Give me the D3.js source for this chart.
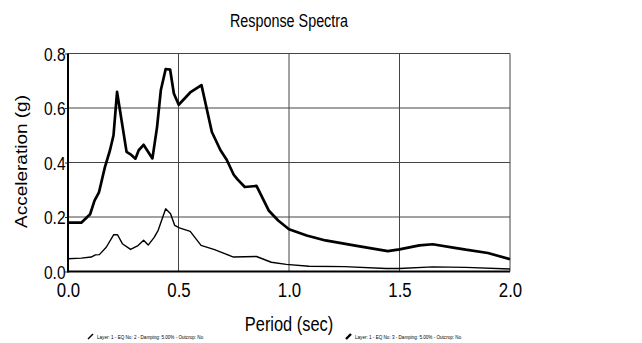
<!DOCTYPE html>
<html><head><meta charset="utf-8">
<script src="https://cdn.jsdelivr.net/npm/d3@7"></script>
<style>html,body{margin:0;padding:0;background:#fff;}svg{display:block;font-family:"Liberation Sans",Arial,sans-serif;}</style>
</head><body><svg id="c" width="642" height="343"></svg>
<script>
const title = "Response Spectra";
const xLabel = "Period (sec)";
const yLabel = "Acceleration (g)";
const xTicks = [0, 0.5, 1.0, 1.5, 2.0];
const yTicks = [0, 0.2, 0.4, 0.6, 0.8];
const legendLabels = ["Layer:  1 - EQ No:  2 - Damping: 5.00% - Outcrop: No", "Layer:  1 - EQ No:  3 - Damping: 5.00% - Outcrop: No"];
// EQ 3 (thick)
const eq3Period = [0,0.06,0.10,0.12,0.14,0.167,0.19,0.206,0.222,0.265,0.283,0.305,0.32,0.342,0.382,0.403,0.42,0.442,0.462,0.479,0.501,0.553,0.604,0.651,0.69,0.718,0.75,0.767,0.80,0.853,0.908,0.951,1.0,1.08,1.165,1.30,1.447,1.50,1.59,1.65,1.75,1.80,1.90,2.0];
const eq3Acc    = [0.179,0.179,0.21,0.26,0.29,0.383,0.445,0.50,0.659,0.439,0.43,0.414,0.445,0.465,0.415,0.53,0.665,0.743,0.741,0.653,0.612,0.657,0.684,0.512,0.445,0.41,0.355,0.338,0.31,0.314,0.224,0.187,0.155,0.132,0.114,0.095,0.075,0.081,0.096,0.10,0.087,0.08,0.068,0.045];
// EQ 2 (thin)
const eq2Period = [0,0.06,0.105,0.124,0.142,0.173,0.207,0.224,0.246,0.283,0.317,0.342,0.363,0.39,0.408,0.442,0.464,0.483,0.504,0.553,0.602,0.663,0.749,0.853,0.92,0.988,1.09,1.25,1.44,1.5,1.65,1.8,2.0];
const eq2Acc    = [0.047,0.049,0.053,0.061,0.062,0.089,0.135,0.135,0.102,0.081,0.095,0.115,0.097,0.125,0.151,0.23,0.212,0.169,0.16,0.147,0.096,0.08,0.053,0.055,0.034,0.026,0.0195,0.018,0.011,0.011,0.017,0.015,0.009];

const svg = d3.select("#c");
const L = 68, R = 510, T = 53.5, B = 271.5;
const SX = 0.82; // narrow lettering as in reference
const x = d3.scaleLinear().domain([0, 2]).range([L, R]);
const y = d3.scaleLinear().domain([0, 0.8]).range([B, T]);

// grid
const g = svg.append("g");
g.selectAll(".vg").data(xTicks.filter(d => d > 0)).join("line")
  .attr("x1", d => x(d)).attr("x2", d => x(d)).attr("y1", T).attr("y2", B)
  .attr("stroke", "#444").attr("stroke-width", 1);
g.selectAll(".hg").data(yTicks.filter(d => d > 0)).join("line")
  .attr("x1", L).attr("x2", R).attr("y1", d => y(d)).attr("y2", d => y(d))
  .attr("stroke", "#444").attr("stroke-width", 1);

// axes
const xAxis = d3.axisBottom(x).tickValues(xTicks).tickFormat(d3.format(".1f")).tickSize(0).tickPadding(11);
const yAxis = d3.axisLeft(y).tickValues(yTicks).tickFormat(d3.format(".1f")).tickSize(3).tickPadding(0);
const xa = svg.append("g").attr("transform", `translate(0,${B})`).call(xAxis);
const ya = svg.append("g").attr("transform", `translate(${L},0)`).call(yAxis);
xa.select(".domain").remove(); ya.select(".domain").remove();
xa.selectAll("text").attr("font-size", 20.5).attr("fill", "#000").attr("font-family", "Liberation Sans, Arial, sans-serif")
  .attr("transform", `scale(${SX},1)`);
ya.selectAll("text").attr("font-size", 19).attr("fill", "#000").attr("font-family", "Liberation Sans, Arial, sans-serif")
  .attr("dy", "0.35em").attr("transform", `scale(${SX},1)`);
ya.selectAll("line").attr("stroke", "#333");
svg.append("line").attr("x1", L).attr("x2", L).attr("y1", T).attr("y2", B + 1).attr("stroke", "#000").attr("stroke-width", 2);
svg.append("line").attr("x1", L).attr("x2", R).attr("y1", B).attr("y2", B).attr("stroke", "#000").attr("stroke-width", 2);

// lines
const line = d3.line().x(d => x(d[0])).y(d => y(d[1]));
svg.append("path").datum(eq2Period.map((p, i) => [p, eq2Acc[i]]))
  .attr("d", line).attr("fill", "none").attr("stroke", "#000").attr("stroke-width", 1.4).attr("stroke-linejoin", "round");
svg.append("path").datum(eq3Period.map((p, i) => [p, eq3Acc[i]]))
  .attr("d", line).attr("fill", "none").attr("stroke", "#000").attr("stroke-width", 2.7).attr("stroke-linejoin", "round");

// titles
const cx = (L + R) / 2;
svg.append("text").attr("transform", `translate(${cx},27) scale(${SX},1)`).attr("text-anchor", "middle").attr("font-size", 17.5).text(title);
svg.append("text").attr("transform", `translate(${cx},331) scale(${SX},1)`).attr("text-anchor", "middle").attr("font-size", 20).text(xLabel);
svg.append("text").attr("transform", `translate(27,${(T + B) / 2 - 1}) rotate(-90) scale(1,${SX})`).attr("text-anchor", "middle").attr("font-size", 19).text(yLabel);

// legend
const legX = [88, 346];
const legW = [1, 2];
legendLabels.forEach((t, i) => {
  svg.append("line").attr("x1", legX[i]).attr("y1", 339).attr("x2", legX[i] + 5).attr("y2", 334)
    .attr("stroke", "#000").attr("stroke-width", legW[i] + 0.4);
  svg.append("text").attr("transform", `translate(${legX[i] + 9},339) scale(${SX},1)`).attr("font-size", 5.6).text(t);
});
</script></body></html>
